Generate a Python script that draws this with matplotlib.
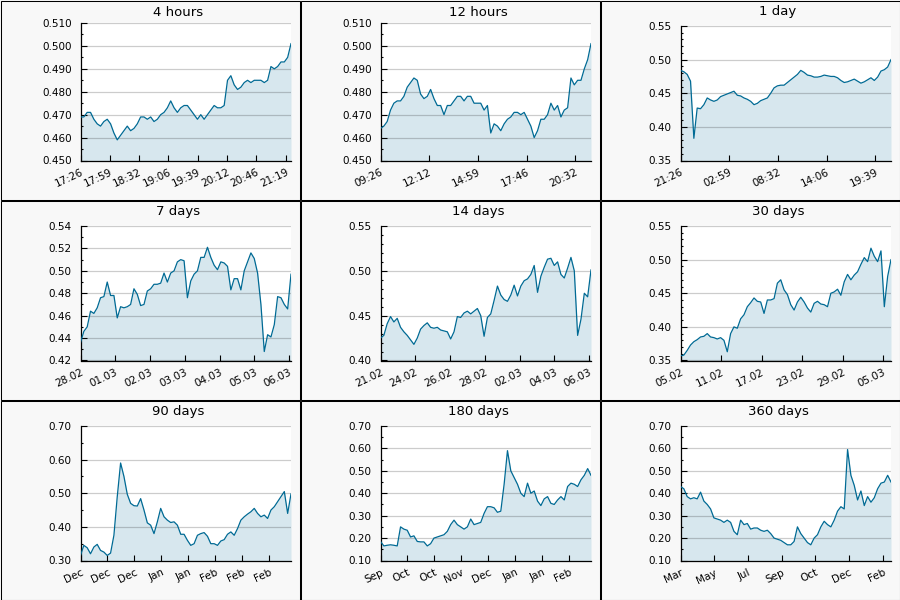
import numpy as np
import matplotlib.pyplot as plt
from matplotlib.ticker import MultipleLocator, FormatStrFormatter
from matplotlib.patches import Rectangle

vals_4h = [.469, .469, .471, .471, .468, .466, .465, .467, .468, .466, .462, .459, .461, .463, .465, .463,
           .464, .466, .469, .469, .468, .469, .467, .468, .470, .471, .473, .476, .473, .471, .473, .474,
           .474, .472, .470, .468, .470, .468, .470, .472, .474, .473, .473, .474, .485, .487, .483, .481,
           .482, .484, .485, .484, .485, .485, .485, .484, .485, .491, .490, .491, .493, .493, .495, .501]
vals_12h = [.464, .465, .467, .472, .475, .476, .476, .478, .482, .484, .486, .485, .479, .477, .478, .481,
            .477, .474, .474, .470, .474, .474, .476, .478, .478, .476, .478, .478, .475, .475, .475, .472,
            .474, .462, .466, .465, .463, .466, .468, .469, .471, .471, .470, .471, .468, .465, .460, .463,
            .468, .468, .470, .475, .472, .474, .469, .472, .473, .486, .483, .485, .485, .490, .494, .501]
vals_1d = [.484, .482, .478, .468, .383, .428, .427, .433, .443, .440, .438, .440, .445, .447, .449, .451,
           .453, .447, .446, .443, .441, .438, .433, .435, .439, .441, .443, .450, .458, .461, .462, .462,
           .466, .470, .474, .478, .484, .481, .477, .476, .474, .474, .475, .477, .476, .475, .475, .473,
           .469, .466, .467, .469, .471, .468, .465, .467, .470, .473, .469, .474, .483, .485, .489, .500]
vals_7d = [.436, .446, .450, .464, .462, .467, .476, .477, .490, .478, .478, .458, .468, .467, .468, .470,
           .484, .479, .469, .470, .482, .484, .488, .488, .489, .498, .490, .498, .500, .508, .510, .509,
           .476, .491, .497, .500, .512, .512, .521, .512, .505, .501, .508, .507, .504, .483, .493, .493,
           .483, .500, .508, .516, .511, .498, .470, .428, .443, .441, .452, .477, .476, .470, .466, .497]
vals_14d = [.425, .428, .441, .449, .443, .447, .437, .432, .428, .423, .418, .425, .435, .439, .442, .437,
            .436, .437, .434, .433, .432, .424, .432, .449, .448, .453, .455, .452, .455, .458, .450, .427,
            .448, .452, .467, .483, .473, .468, .466, .473, .484, .472, .483, .489, .491, .496, .506, .476,
            .494, .504, .513, .514, .506, .510, .496, .492, .503, .515, .500, .428, .446, .475, .471, .501]
vals_30d = [.357, .358, .365, .373, .378, .381, .385, .386, .390, .385, .384, .382, .384, .380, .363, .390,
            .400, .398, .412, .418, .430, .436, .443, .438, .437, .420, .440, .440, .442, .465, .470, .455,
            .448, .433, .425, .437, .444, .437, .428, .422, .435, .438, .434, .433, .430, .450, .452, .456,
            .447, .467, .478, .470, .477, .482, .493, .503, .497, .517, .505, .497, .513, .430, .475, .500]
vals_90d = [.315, .345, .338, .320, .340, .348, .330, .325, .315, .322, .375, .490, .590, .550, .497, .470,
            .463, .462, .484, .450, .412, .405, .380, .415, .455, .430, .420, .413, .415, .405, .378, .378,
            .360, .345, .350, .375, .380, .383, .372, .350, .350, .345, .358, .362, .378, .385, .375, .395,
            .420, .430, .438, .445, .455, .440, .430, .435, .425, .450, .460, .475, .490, .505, .440, .498]
vals_180d = [.185, .165, .168, .170, .168, .165, .250, .240, .235, .205, .210, .185, .183, .183, .165, .175,
             .200, .205, .210, .215, .230, .260, .280, .260, .250, .240, .250, .285, .260, .265, .270, .310,
             .340, .340, .335, .315, .320, .440, .590, .500, .470, .440, .400, .385, .445, .400, .410, .365,
             .345, .375, .385, .355, .350, .370, .385, .370, .430, .445, .440, .430, .460, .480, .510, .480]
vals_360d = [.430, .420, .385, .375, .380, .375, .405, .365, .350, .330, .290, .285, .280, .270, .280, .270,
             .230, .215, .280, .260, .265, .240, .245, .245, .235, .230, .235, .220, .200, .195, .190, .180,
             .170, .170, .185, .250, .220, .200, .180, .170, .200, .215, .250, .275, .260, .250, .280, .320,
             .340, .330, .595, .480, .435, .370, .410, .345, .385, .360, .380, .420, .445, .450, .480, .450]

ticks_4h = ['17:26', '17:59', '18:32', '19:06', '19:39', '20:12', '20:46', '21:19']
ticks_12h = ['09:26', '12:12', '14:59', '17:46', '20:32']
ticks_1d = ['21:26', '02:59', '08:32', '14:06', '19:39']
ticks_7d = ['28.02', '01.03', '02.03', '03.03', '04.03', '05.03', '06.03']
ticks_14d = ['21.02', '24.02', '26.02', '28.02', '02.03', '04.03', '06.03']
ticks_30d = ['05.02', '11.02', '17.02', '23.02', '29.02', '05.03']
ticks_90d = ['Dec', 'Dec', 'Dec', 'Jan', 'Jan', 'Feb', 'Feb', 'Feb']
ticks_180d = ['Sep', 'Oct', 'Oct', 'Nov', 'Dec', 'Jan', 'Jan', 'Feb']
ticks_360d = ['Mar', 'May', 'Jul', 'Sep', 'Oct', 'Dec', 'Feb']

titles = ['4 hours', '12 hours', '1 day', '7 days', '14 days', '30 days', '90 days', '180 days', '360 days']

# title, values, tick labels, span in tick intervals, ylim, major, minor, format, axes top (px)
panels = [
    (titles[0], vals_4h, ticks_4h, 7.18, (0.45, 0.51), 0.01, 0.005, '%.3f', 23),
    (titles[1], vals_12h, ticks_12h, 4.32, (0.45, 0.51), 0.01, 0.005, '%.3f', 23),
    (titles[2], vals_1d, ticks_1d, 4.32, (0.35, 0.55), 0.05, 0.01, '%.2f', 26),
    (titles[3], vals_7d, ticks_7d, 6.05, (0.42, 0.54), 0.02, 0.01, '%.2f', 26),
    (titles[4], vals_14d, ticks_14d, 6.05, (0.40, 0.55), 0.05, 0.01, '%.2f', 26),
    (titles[5], vals_30d, ticks_30d, 5.19, (0.35, 0.55), 0.05, 0.01, '%.2f', 26),
    (titles[6], vals_90d, ticks_90d, 7.80, (0.30, 0.70), 0.1, 0.05, '%.2f', 26),
    (titles[7], vals_180d, ticks_180d, 7.80, (0.10, 0.70), 0.1, 0.05, '%.2f', 26),
    (titles[8], vals_360d, ticks_360d, 6.24, (0.10, 0.70), 0.1, 0.05, '%.2f', 26),
]

W, H = 900, 600
line_color = '#006a94'
fill_color = '#d7e7ee'

fig = plt.figure(figsize=(9, 6), dpi=100, facecolor='#f8f8f8')

for i, (title, vals, labels, span, ylim, major, minor, fmt, top) in enumerate(panels):
    col, row = i % 3, i // 3
    px, py = 300 * col, 200 * row
    left, right, bottom = px + 80.5, px + 291, py + 160.5
    ax = fig.add_axes([left / W, 1 - bottom / H, (right - left) / W, (bottom - py - top) / H])
    ax.set_facecolor('white')

    x = np.linspace(0, span, len(vals))
    ax.fill_between(x, vals, ylim[0], color=fill_color, lw=0, zorder=1)
    ax.plot(x, vals, color=line_color, lw=0.9, zorder=3)

    ax.set_xlim(0, span)
    ax.set_ylim(*ylim)
    ax.set_xticks(np.arange(len(labels)))
    ax.set_xticklabels(labels, rotation=25, ha='right', va='top', rotation_mode='anchor')
    ax.yaxis.set_major_locator(MultipleLocator(major))
    ax.yaxis.set_minor_locator(MultipleLocator(minor))
    ax.yaxis.set_major_formatter(FormatStrFormatter(fmt))

    ax.grid(axis='y', which='major', color='black', alpha=0.2, lw=0.9, zorder=2)
    ax.set_axisbelow(False)
    for s in ['top', 'right']:
        ax.spines[s].set_visible(False)
    for s in ['left', 'bottom']:
        ax.spines[s].set_linewidth(0.9)
    ax.tick_params(axis='both', which='major', direction='in', length=4.3, width=0.8,
                   labelsize=7.5, colors='black')
    ax.tick_params(axis='y', which='minor', direction='in', length=1.6, width=0.8)
    ax.tick_params(axis='y', which='major', pad=6.3)
    ax.tick_params(axis='x', which='major', pad=5)

    fig.text((px + 178) / W, 1 - (py + 12) / H, title, ha='center', va='center', fontsize=9.5)

    fig.add_artist(Rectangle(((px + 0.5) / W, 1 - (py + 199.5) / H), 299 / W, 199 / H,
                             transform=fig.transFigure, fill=False, ec='black', lw=0.75))

fig.savefig('out.png', dpi=100, facecolor=fig.get_facecolor())
